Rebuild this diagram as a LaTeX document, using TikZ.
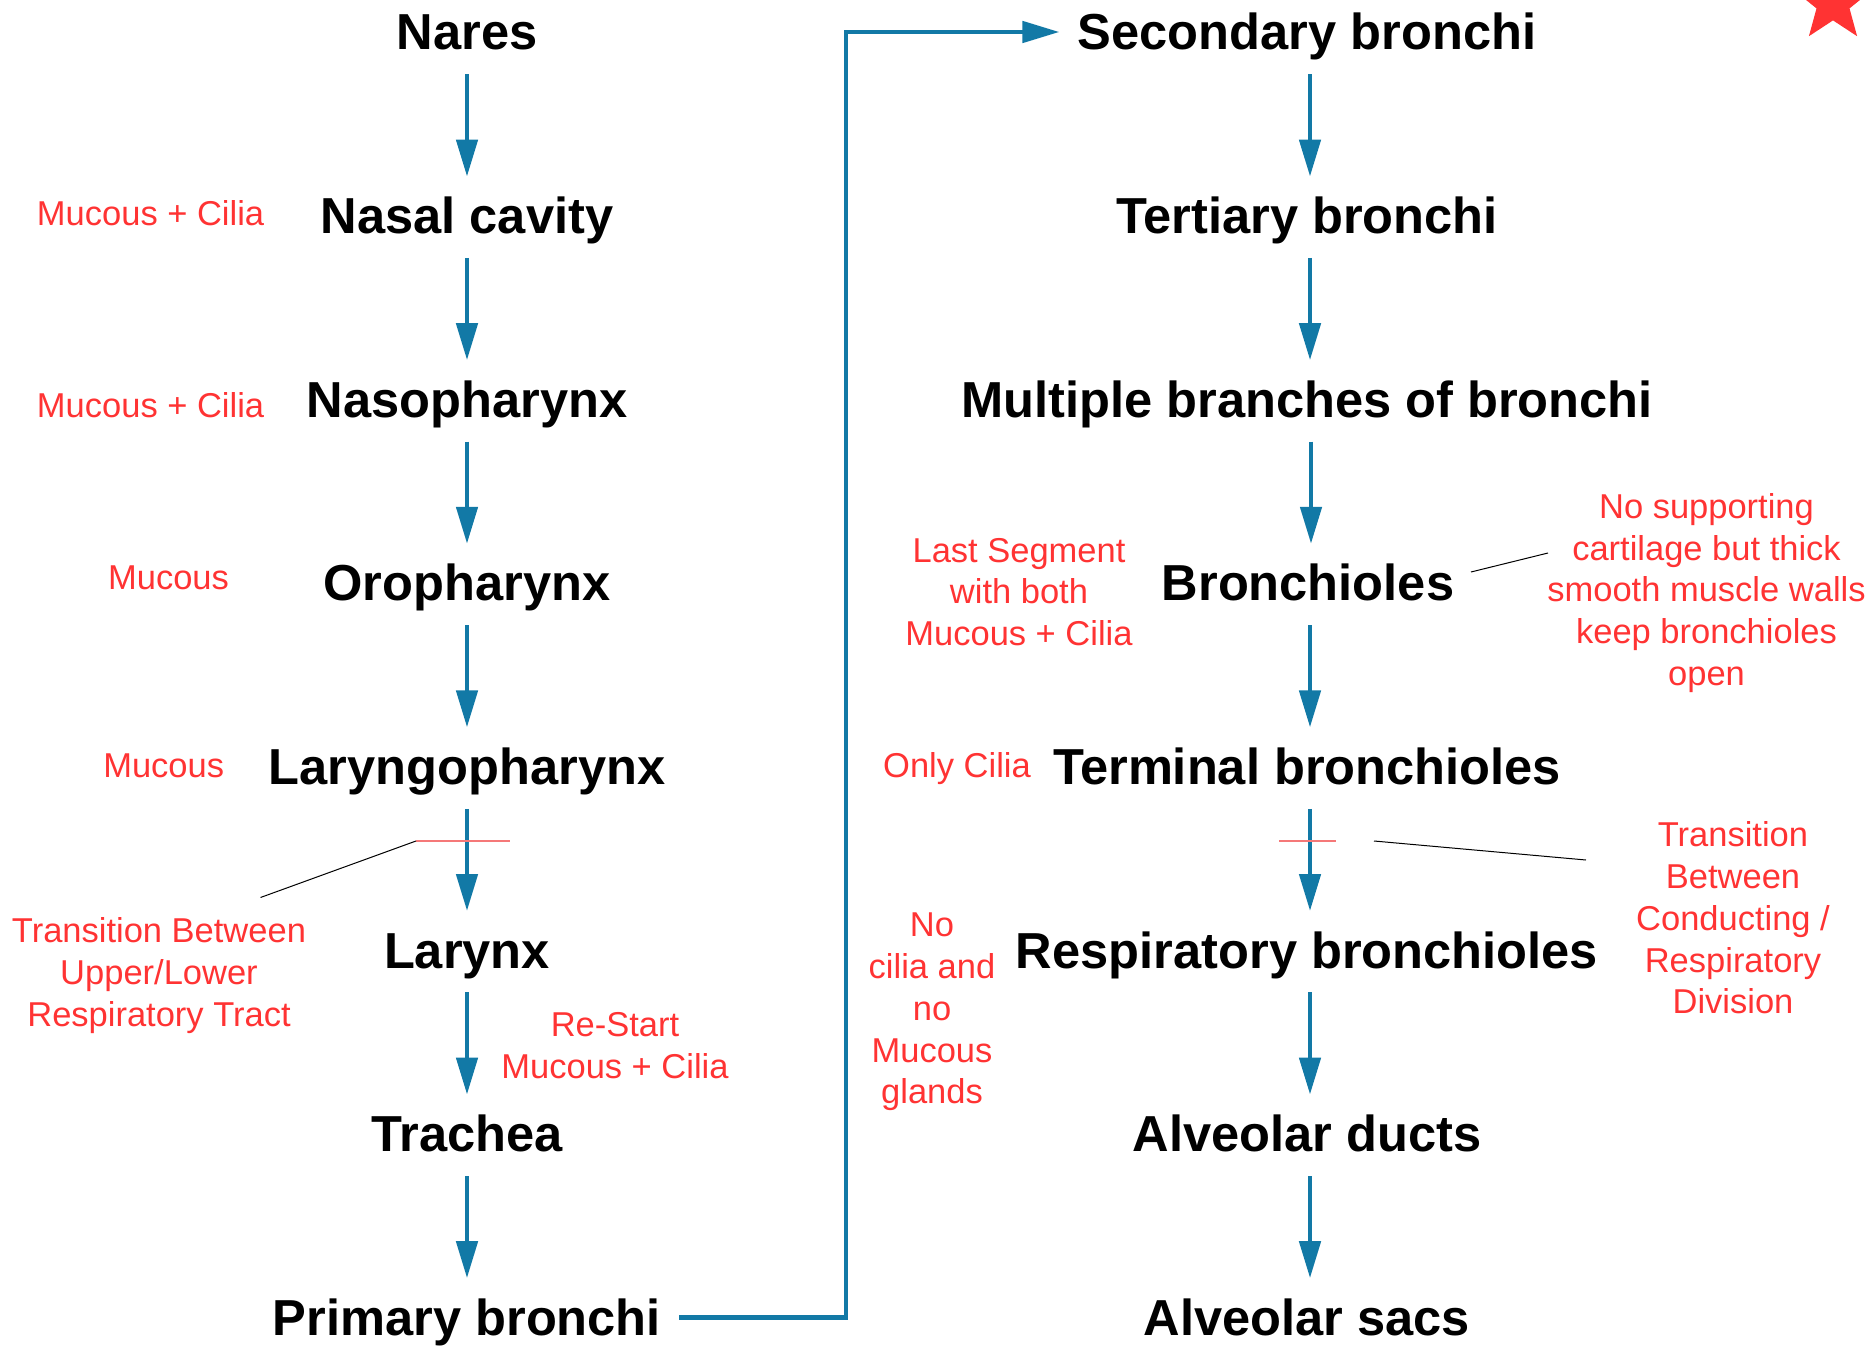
\documentclass[tikz,border=0pt]{standalone}
\usepackage{fontspec}
\setmainfont{Liberation Sans}
\usetikzlibrary{arrows.meta}
\definecolor{flowcol}{RGB}{18,121,166}
\definecolor{notecol}{RGB}{255,51,51}
\definecolor{cutcol}{RGB}{245,120,120}
\begin{document}
\begin{tikzpicture}[x=0.5pt,y=-0.5pt,
  stage/.style={font=\fontsize{25.3}{30}\selectfont\bfseries, inner sep=0pt, text height=18pt, text depth=0pt, minimum height=38.6pt},
  note/.style={text=notecol, font=\fontsize{17.25}{20.9}\selectfont, align=center, inner sep=0pt},
  flowarr/.style={draw=flowcol, line width=2.35pt, -{Triangle[length=18.5pt,width=10.5pt]}},
  leader/.style={draw=black, line width=0.5pt},
  cutline/.style={draw=cutcol, line width=0.6pt}]
\useasboundingbox (0,0) rectangle (1874,1348);
% left column
\node[stage] (nares) at (467,32) {Nares};
\node[stage] (nasal) at (467,215.6) {Nasal cavity};
\node[stage] (nasoph) at (467,399.2) {Nasopharynx};
\node[stage] (oroph) at (467,582.8) {Oropharynx};
\node[stage] (laryngoph) at (467,766.4) {Laryngopharynx};
\node[stage] (larynx) at (467,950) {Larynx};
\node[stage] (trachea) at (467,1133.6) {Trachea};
\node[stage] (primary) at (467,1317.2) {Primary bronchi};
% right column
\node[stage] (secondary) at (1307,32) {Secondary bronchi};
\node[stage] (tertiary) at (1307,215.6) {Tertiary bronchi};
\node[stage] (multiple) at (1307,399.2) {Multiple branches of bronchi};
\node[stage] (bronchioles) at (1308,582.8) {Bronchioles};
\node[stage] (terminal) at (1307,766.4) {Terminal bronchioles};
\node[stage] (respiratory) at (1307,950) {Respiratory bronchioles};
\node[stage] (ducts) at (1307,1133.6) {Alveolar ducts};
\node[stage] (sacs) at (1307,1317.2) {Alveolar sacs};
% arrows
\foreach \a/\b in {nares/nasal,nasal/nasoph,nasoph/oroph,oroph/laryngoph,laryngoph/larynx,larynx/trachea,trachea/primary}
  \draw[flowarr, shorten <=1.7pt] (\a.south) -- (\b.north);
\foreach \a/\b in {secondary/tertiary,tertiary/multiple,multiple/bronchioles,bronchioles/terminal,terminal/respiratory,respiratory/ducts,ducts/sacs}
  \draw[flowarr, shorten <=1.7pt] ([xshift=1.5pt]\b.north |- \a.south) -- ([xshift=1.5pt]\b.north);
\coordinate (turn) at (846,32);
\draw[flowarr, shorten <=9pt, shorten >=9pt] (primary.east) -| (turn) -- (secondary.west);
% notes left
\node[note] (n1) at (150.6,212.7) {Mucous + Cilia};
\node[note] (n2) at (150.6,405) {Mucous + Cilia};
\node[note] (n3) at (168.5,578) {Mucous};
\node[note] (n4) at (163.7,766) {Mucous};
\node[note] (n5) at (159,975.5) {Transition Between\\Upper/Lower\\Respiratory Tract};
\node[note] (n6) at (615,1046) {Re-Start\\Mucous + Cilia};
% notes right
\node[note] (n7) at (1019,592) {Last Segment\\with both\\Mucous + Cilia};
\node[note] (n8) at (1706.5,593) {No supporting\\cartilage but thick\\smooth muscle walls\\keep bronchioles\\open};
\node[note] (n9) at (957,769) {Only Cilia};
\node[note] (n10) at (932,1012) {No\\cilia and\\no\\Mucous\\glands};
\node[note] (n11) at (1733,918) {Transition\\Between\\Conducting /\\Respiratory\\Division};
% transition marks and leaders
\coordinate (cutL1) at (416,841);
\coordinate (cutL2) at (510,841);
\coordinate (leadL) at (260.5,897.5);
\draw[cutline] (cutL1) -- (cutL2);
\draw[leader] (leadL) -- (cutL1);
\coordinate (cutR1) at (1279,841);
\coordinate (cutR2) at (1336,841);
\coordinate (leadR1) at (1374,841);
\coordinate (leadR2) at (1586,860);
\draw[cutline] (cutR1) -- (cutR2);
\draw[leader] (leadR1) -- (leadR2);
\coordinate (leadB1) at (1471,572);
\coordinate (leadB2) at (1548,553);
\draw[leader] (leadB1) -- (leadB2);
% star
\fill[notecol, shift={(1833,3)}] (0,-41) -- (10.2,-14.0) -- (39.0,-12.7) -- (16.5,5.4) -- (24.1,33.2) -- (0,17.4) -- (-24.1,33.2) -- (-16.5,5.4) -- (-39.0,-12.7) -- (-10.2,-14.0) -- cycle;
\end{tikzpicture}
\end{document}
